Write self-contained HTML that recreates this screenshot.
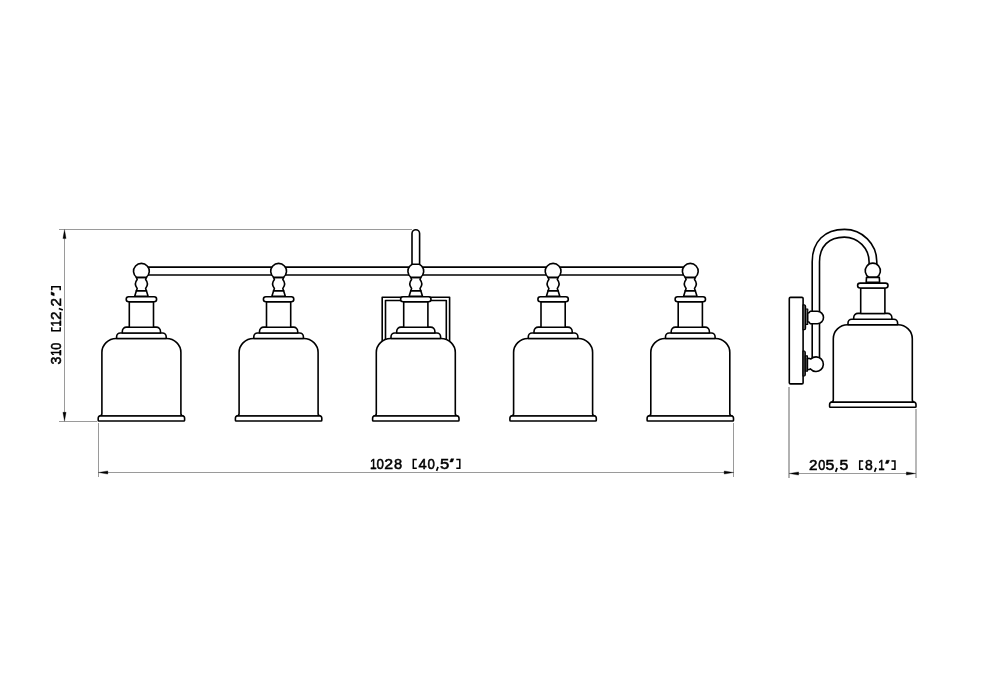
<!DOCTYPE html>
<html><head><meta charset="utf-8">
<style>
html,body{margin:0;padding:0;background:#fff;width:991px;height:700px;overflow:hidden}
svg{display:block}
.t{font-family:"Liberation Sans",sans-serif;fill:#000;stroke:#000;stroke-width:0.55}
</style></head>
<body>
<svg width="991" height="700" viewBox="0 0 991 700" style="will-change:transform">
<defs>
<g id="lower">
  <path d="M-25.2 338.5 L25.2 338.5 A14.3 14 0 0 1 39.5 352.5 L39.5 413.4 Q39.5 416 42 416 L-42 416 Q-39.5 416 -39.5 413.4 L-39.5 352.5 A14.3 14 0 0 1 -25.2 338.5 Z"/>
  <path d="M-43.2 418.2 Q-43.2 416 -41 416 H41 Q43.2 416 43.2 418.2 V420.2 Q43.2 421 42.4 421 H-42.4 Q-43.2 421 -43.2 420.2 Z"/>
  <path d="M-24.8 338.5 L-24.8 336.7 A3.7 3.7 0 0 1 -21.1 333 L21.1 333 A3.7 3.7 0 0 1 24.8 336.7 L24.8 338.5 Z"/>
  <path d="M-19.1 333 L-19.1 331.4 A4.3 4.3 0 0 1 -14.8 327.1 L14.8 327.1 A4.3 4.3 0 0 1 19.1 331.4 L19.1 333 Z"/>
  <rect x="-12.1" y="301.7" width="24.2" height="25.5"/>
  <rect x="-15.2" y="296.8" width="30.4" height="4.9" rx="2.45"/>
</g>
<g id="front">
  <use href="#lower"/>
  <path d="M-5 290.8 L-6.7 296.2 L6.7 296.2 L5 290.8 Z"/>
  <path d="M-5.2 277.4 Q-4.5 278.4 -4.2 279.6 Q-7.9 284 -4.2 288.4 Q-4.4 289.6 -5.1 290.8 L5.1 290.8 Q4.4 289.6 4.2 288.4 Q7.9 284 4.2 279.6 Q4.5 278.4 5.2 277.4 Z"/>
  <path d="M-4.8 277.4 A7.9 7.8 0 1 1 4.8 277.4 Z"/>
</g>
</defs>

<g stroke="#9a9a9a" stroke-width="1" fill="none">
  <line x1="59" y1="229.5" x2="412" y2="229.5"/>
  <line x1="59" y1="421.5" x2="97" y2="421.5"/>
  <line x1="64.5" y1="236" x2="64.5" y2="415"/>
  <line x1="98.5" y1="423" x2="98.5" y2="477"/>
  <line x1="733.5" y1="423" x2="733.5" y2="477"/>
  <line x1="105" y1="472.5" x2="727" y2="472.5"/>
  <line x1="789" y1="387" x2="789" y2="478" stroke-width="2" stroke="#b2b2b2"/>
  <line x1="916" y1="409" x2="916" y2="478" stroke-width="2" stroke="#b8b8b8"/>
  <line x1="796" y1="473.5" x2="910" y2="473.5"/>
</g>
<g fill="#000" stroke="#000" stroke-width="0.3" stroke-linejoin="round">
  <path d="M64.5 229.6 L66.1 238.6 L62.9 238.6 Z"/>
  <path d="M64.5 421.2 L66.1 412.3 L62.9 412.3 Z"/>
  <path d="M98.4 472.5 L107.8 470.9 L107.8 474.1 Z"/>
  <path d="M733.6 472.5 L724.2 470.9 L724.2 474.1 Z"/>
  <path d="M789.2 473.5 L798.6 471.9 L798.6 475.1 Z"/>
  <path d="M915.8 473.5 L906.4 471.9 L906.4 475.1 Z"/>
</g>
<text class="t" transform="translate(373.40,469.10) scale(0.78,1)" font-size="15.43" text-anchor="middle">1</text>
<path d="M371.05 468.35 H375.35" stroke="#000" stroke-width="1.5" fill="none"/>
<text class="t" transform="translate(380.20,469.10) scale(0.86,1)" font-size="15.43" text-anchor="middle">0</text>
<text class="t" transform="translate(388.65,469.10) scale(1.03,1)" font-size="15.43" text-anchor="middle">2</text>
<text class="t" transform="translate(398.00,469.10) scale(0.95,1)" font-size="15.43" text-anchor="middle">8</text>
<path d="M416.80 459.50 H413.30 V468.30 H416.80" stroke="#000" stroke-width="1.5" fill="none"/>
<text class="t" transform="translate(422.50,469.10) scale(0.95,1)" font-size="15.43" text-anchor="middle">4</text>
<text class="t" transform="translate(431.10,469.10) scale(0.86,1)" font-size="15.43" text-anchor="middle">0</text>
<path d="M438.05 466.90 L436.55 470.90" stroke="#000" stroke-width="1.6" fill="none"/>
<text class="t" transform="translate(444.55,469.10) scale(1.08,1)" font-size="15.43" text-anchor="middle">5</text>
<path d="M451.00 458.80 L453.80 458.80 L452.50 461.90 L449.80 461.90 Z" fill="#000" stroke="#000" stroke-width="0.5" stroke-linejoin="round"/>
<path d="M456.30 459.50 H459.80 V468.30 H456.30" stroke="#000" stroke-width="1.5" fill="none"/>
<text class="t" transform="translate(813.20,470.10) scale(1.03,1)" font-size="14.71" text-anchor="middle">2</text>
<text class="t" transform="translate(821.80,470.10) scale(0.86,1)" font-size="14.71" text-anchor="middle">0</text>
<text class="t" transform="translate(830.00,470.10) scale(1.08,1)" font-size="14.71" text-anchor="middle">5</text>
<path d="M837.15 467.90 L835.65 471.90" stroke="#000" stroke-width="1.6" fill="none"/>
<text class="t" transform="translate(843.85,470.10) scale(1.08,1)" font-size="14.71" text-anchor="middle">5</text>
<path d="M863.20 461.00 H859.70 V469.30 H863.20" stroke="#000" stroke-width="1.5" fill="none"/>
<text class="t" transform="translate(868.80,470.10) scale(0.95,1)" font-size="14.71" text-anchor="middle">8</text>
<path d="M876.05 467.90 L874.55 471.90" stroke="#000" stroke-width="1.6" fill="none"/>
<text class="t" transform="translate(881.55,470.10) scale(0.78,1)" font-size="14.71" text-anchor="middle">1</text>
<path d="M879.20 469.35 H883.50" stroke="#000" stroke-width="1.5" fill="none"/>
<path d="M886.60 460.30 L889.40 460.30 L888.10 463.40 L885.40 463.40 Z" fill="#000" stroke="#000" stroke-width="0.5" stroke-linejoin="round"/>
<path d="M891.45 461.00 H894.95 V469.30 H891.45" stroke="#000" stroke-width="1.5" fill="none"/>
<g transform="rotate(-90)">
<text class="t" transform="translate(-360.50,61.00) scale(0.95,1)" font-size="14.86" text-anchor="middle">3</text>
<text class="t" transform="translate(-352.85,61.00) scale(0.78,1)" font-size="14.86" text-anchor="middle">1</text>
<path d="M-355.20 60.25 H-350.90" stroke="#000" stroke-width="1.5" fill="none"/>
<text class="t" transform="translate(-346.10,61.00) scale(0.86,1)" font-size="14.86" text-anchor="middle">0</text>
<path d="M-327.20 51.80 H-330.70 V60.20 H-327.20" stroke="#000" stroke-width="1.5" fill="none"/>
<text class="t" transform="translate(-323.40,61.00) scale(0.78,1)" font-size="14.86" text-anchor="middle">1</text>
<path d="M-325.75 60.25 H-321.45" stroke="#000" stroke-width="1.5" fill="none"/>
<text class="t" transform="translate(-315.70,61.00) scale(1.03,1)" font-size="14.86" text-anchor="middle">2</text>
<path d="M-308.50 58.80 L-310.00 62.80" stroke="#000" stroke-width="1.6" fill="none"/>
<text class="t" transform="translate(-302.15,61.00) scale(1.03,1)" font-size="14.86" text-anchor="middle">2</text>
<path d="M-294.65 51.10 L-291.85 51.10 L-293.15 54.20 L-295.85 54.20 Z" fill="#000" stroke="#000" stroke-width="0.5" stroke-linejoin="round"/>
<path d="M-290.15 51.80 H-286.65 V60.20 H-290.15" stroke="#000" stroke-width="1.5" fill="none"/>
</g>

<g stroke="#000" stroke-width="1.6" fill="#fff" stroke-linejoin="round">
  <line x1="141" y1="267.1" x2="690" y2="267.1"/>
  <line x1="141" y1="275" x2="690" y2="275"/>
  <path d="M382.2 345 L382.2 297.3 L449.6 297.3 L449.6 345" fill="none"/>
  <path d="M385.5 345 L385.5 300.5 L446.3 300.5 L446.3 345" fill="none"/>
  <use href="#front" x="141.4"/>
  <use href="#front" x="278.6"/>
  <use href="#front" x="415.8"/>
  <use href="#front" x="553.1"/>
  <use href="#front" x="690.3"/>
  <path d="M412 264.2 L412 233.5 A3.8 3.8 0 0 1 419.6 233.5 L419.6 264.2 Z"/>

  <rect x="789.3" y="297.4" width="13.8" height="86.5" rx="1.2"/>
  <path d="M812.2 358.3 L812.2 261.7 C812.2 241.5 824.5 229.4 844.5 229.4 A32.3 32.3 0 0 1 876.8 261.7 L876.8 266 L869.1 266 L869.1 261.9 A24.8 24.8 0 0 0 844.3 237.1 C828.9 237.1 819.5 246.3 819.5 261.9 L819.5 358.3 Z"/>
  <path d="M803 304.9 H804.4 Q805.6 305.1 805.6 306.5 V328.2 Q805.6 329.6 804.4 329.7 H803 Z" fill="#555" stroke-width="1.2"/>
  <rect x="805.6" y="309" width="2.15" height="15.3" fill="#888" stroke-width="1.2"/>
  <path d="M803 351 H804.4 Q805.3 351.2 805.3 352.6 V374.6 Q805.3 376 804.4 376 H803 Z" fill="#555" stroke-width="1.2"/>
  <rect x="805.3" y="355.8" width="2.1" height="15.4" fill="#888" stroke-width="1.2"/>
  <path d="M807.7 313.2 Q809.4 313.2 810.2 311.3 L817.3 311.3 A6.2 6.2 0 0 1 817.3 323.7 L810.2 323.7 Q809.4 321.8 807.7 321.8 Z"/>
  <path d="M807.4 358.3 Q809.8 358.3 810.9 359.0 A7.3 7.3 0 1 1 810.5 368.9 Q809.5 369.7 807.4 369.7 Z"/>
  <g transform="translate(872.8,-13.7)"><use href="#lower"/></g>
  <path d="M869.1 277.4 A7.6 7.6 0 1 1 876.5 277.4 Z"/>
  <path d="M866.5 277.4 L866.2 282.4 L879.6 282.4 L879.3 277.4 Z"/>
</g>
</svg>
</body></html>
